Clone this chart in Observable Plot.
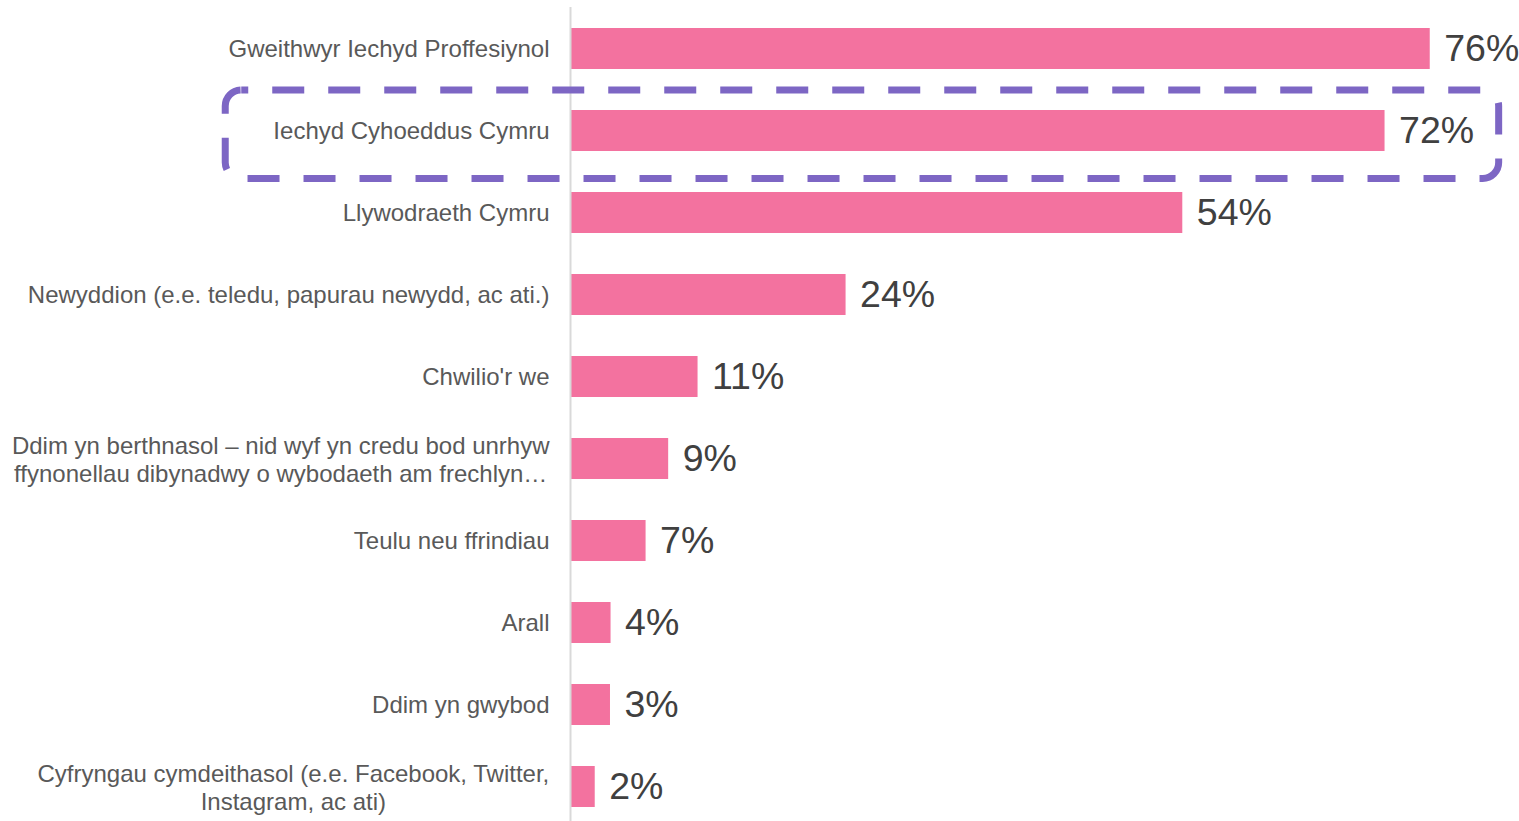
<!DOCTYPE html>
<html>
<head>
<meta charset="utf-8">
<script src="https://cdn.jsdelivr.net/npm/d3@7"></script>
<script src="https://cdn.jsdelivr.net/npm/@observablehq/plot@0.6"></script>
<style>
  html, body { margin: 0; padding: 0; background: #fff; overflow: hidden; }
  #chart svg { display: block; font-family: "Liberation Sans", Arial, sans-serif; overflow: visible; }
</style>
</head>
<body>
<div id="chart"></div>
<script>
const categories = [
  "Gweithwyr Iechyd Proffesiynol",
  "Iechyd Cyhoeddus Cymru",
  "Llywodraeth Cymru",
  "Newyddion (e.e. teledu, papurau newydd, ac ati.)",
  "Chwilio'r we",
  "Ddim yn berthnasol – nid wyf yn credu bod unrhyw\nffynonellau dibynadwy o wybodaeth am frechlyn…",
  "Teulu neu ffrindiau",
  "Arall",
  "Ddim yn gwybod",
  "Cyfryngau cymdeithasol (e.e. Facebook, Twitter,\nInstagram, ac ati)"
];
const values = [76.0, 72.0, 54.1, 24.3, 11.2, 8.6, 6.6, 3.5, 3.45, 2.1];
const highlighted = ["Iechyd Cyhoeddus Cymru"];
const highlightSpan = [-30.6, 82.1]; // box extent in % units

const data = categories.map((c, i) => ({category: c, value: values[i], label: Math.round(values[i]) + "%"}));
const box = highlighted.map(c => ({category: c, x1: highlightSpan[0], x2: highlightSpan[1]}));

const labelFont = 24;
const labelGap = 22;
const ctx = document.createElement("canvas").getContext("2d");
ctx.font = `${labelFont}px "Liberation Sans", Arial, sans-serif`;
const blockWidth = s => Math.max(...s.split("\n").map(l => ctx.measureText(l).width));

const single = data.filter(d => !d.category.includes("\n"));
const multi = data.filter(d => d.category.includes("\n"));

const labelMarks = [
  Plot.text(single, {
    y: "category", x: 0, text: "category", textAnchor: "end", dx: -labelGap,
    fontSize: labelFont, fill: "#595959"
  }),
  ...multi.map(d => Plot.text([d], {
    y: "category", x: 0, text: "category", textAnchor: "middle",
    dx: -labelGap - blockWidth(d.category) / 2,
    fontSize: labelFont, fill: "#595959", lineHeight: 1.17
  }))
];

const chart = Plot.plot({
  width: 1519,
  height: 828,
  marginLeft: 571,
  marginRight: 0,
  marginTop: 7,
  marginBottom: 0,
  x: {domain: [0, 83.9], axis: null},
  y: {domain: categories, paddingInner: 0.5, paddingOuter: 0.25, axis: null},
  marks: [
    Plot.barX(data, {y: "category", x: "value", fill: "#F3729F"}),
    Plot.ruleX([0], {stroke: "#d9d9d9", strokeWidth: 2, dx: -1}),
    ...labelMarks,
    Plot.text(data, {
      y: "category", x: "value", text: "label", textAnchor: "start", dx: 14,
      fontSize: 37.5, fill: "#404040"
    }),
    Plot.barX(box, {
      y: "category", x1: "x1", x2: "x2", fill: "none",
      stroke: "#7D66C4", strokeWidth: 7, strokeDasharray: "32,24", strokeDashoffset: 25,
      rx: 16, insetTop: -20, insetBottom: -27.5
    })
  ]
});
document.getElementById("chart").append(chart);
</script>
</body>
</html>
